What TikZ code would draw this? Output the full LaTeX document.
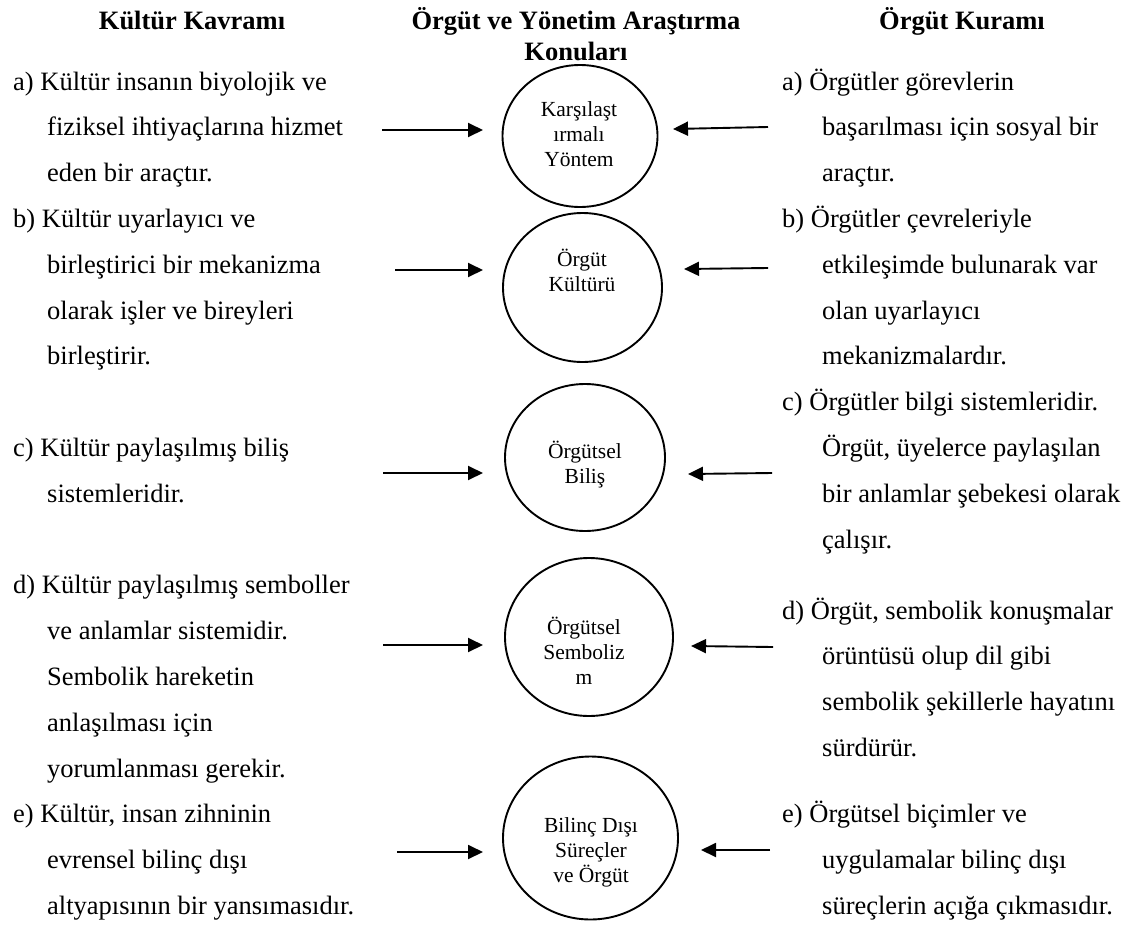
\documentclass[tikz,border=0pt]{standalone}
\usepackage{fontspec}
\setmainfont{Liberation Serif}
\usetikzlibrary{arrows.meta,shapes.geometric}

% text sizes: body lines, headings and the labels inside the ellipses
\newcommand\bodytxt{\fontsize{26.5}{45.8}\selectfont}
\newcommand\ovaltxt{\fontsize{21.5}{25}\selectfont}

\begin{document}
\begin{tikzpicture}[x=1pt,y=-1pt,
  ln/.style={anchor=base west,inner sep=0pt,font=\bodytxt},
  head/.style={anchor=base,inner sep=0pt,font=\bodytxt\bfseries},
  oval/.style={draw,ellipse,line width=1.9pt,inner sep=0pt},
  ovaltext/.style={align=center,inner sep=0pt,font=\ovaltxt},
  link/.style={line width=1.9pt,-{Triangle[length=15pt,width=14pt]}}]

\useasboundingbox (0,0) rectangle (1143,926);

% column headings
\node[head] (h1) at (192,29) {Kültür Kavramı};
\node[head] (h2) at (576,29) {Örgüt ve Yönetim Araştırma};
\node[head] (h2b) at (576,60) {Konuları};
\node[head] (h3) at (962,29) {Örgüt Kuramı};

% left column: culture concepts
\node[ln] (la1) at (13,90)    {a) Kültür insanın biyolojik ve};
\node[ln] (la2) at (47,135.8) {fiziksel ihtiyaçlarına hizmet};
\node[ln] (la3) at (47,181.6) {eden bir araçtır.};
\node[ln] (lb1) at (13,227.4) {b) Kültür uyarlayıcı ve};
\node[ln] (lb2) at (47,273.2) {birleştirici bir mekanizma};
\node[ln] (lb3) at (47,319)   {olarak işler ve bireyleri};
\node[ln] (lb4) at (47,364.8) {birleştirir.};
\node[ln] (lc1) at (13,456.4) {c) Kültür paylaşılmış biliş};
\node[ln] (lc2) at (47,502.2) {sistemleridir.};
\node[ln] (ld1) at (13,593.8) {d) Kültür paylaşılmış semboller};
\node[ln] (ld2) at (47,639.6) {ve anlamlar sistemidir.};
\node[ln] (ld3) at (47,685.4) {Sembolik hareketin};
\node[ln] (ld4) at (47,731.2) {anlaşılması için};
\node[ln] (ld5) at (47,777)   {yorumlanması gerekir.};
\node[ln] (le1) at (13,822.8) {e) Kültür, insan zihninin};
\node[ln] (le2) at (47,868.6) {evrensel bilinç dışı};
\node[ln] (le3) at (47,914.4) {altyapısının bir yansımasıdır.};

% right column: organisation theory
\node[ln] (ra1) at (782,90)    {a) Örgütler görevlerin};
\node[ln] (ra2) at (822,135.8) {başarılması için sosyal bir};
\node[ln] (ra3) at (822,181.6) {araçtır.};
\node[ln] (rb1) at (782,227.4) {b) Örgütler çevreleriyle};
\node[ln] (rb2) at (822,273.2) {etkileşimde bulunarak var};
\node[ln] (rb3) at (822,319)   {olan uyarlayıcı};
\node[ln] (rb4) at (822,364.8) {mekanizmalardır.};
\node[ln] (rc1) at (782,410.6) {c) Örgütler bilgi sistemleridir.};
\node[ln] (rc2) at (822,456.4) {Örgüt, üyelerce paylaşılan};
\node[ln] (rc3) at (822,502.2) {bir anlamlar şebekesi olarak};
\node[ln] (rc4) at (822,548)   {çalışır.};
\node[ln] (rd1) at (782,619)   {d) Örgüt, sembolik konuşmalar};
\node[ln] (rd2) at (822,664.8) {örüntüsü olup dil gibi};
\node[ln] (rd3) at (822,710.6) {sembolik şekillerle hayatını};
\node[ln] (rd4) at (822,756.4) {sürdürür.};
\node[ln] (re1) at (782,822.8) {e) Örgütsel biçimler ve};
\node[ln] (re2) at (822,868.6) {uygulamalar bilinç dışı};
\node[ln] (re3) at (822,914.4) {süreçlerin açığa çıkmasıdır.};

% middle column: research topics
\node[oval,minimum width=155pt,minimum height=142pt] (e1) at (580,136) {};
\node[oval,minimum width=159pt,minimum height=149pt] (e2) at (582.5,287.5) {};
\node[oval,minimum width=160pt,minimum height=147pt] (e3) at (585,457.5) {};
\node[oval,minimum width=168pt,minimum height=158pt] (e4) at (589,637) {};
\node[oval,minimum width=175pt,minimum height=163pt] (e5) at (590.5,838) {};

\node[ovaltext] (t1) at (579,134) {Karşılaşt\\ırmalı\\Yöntem};
\node[ovaltext] (t2) at (582,270) {Örgüt\\Kültürü};
\node[ovaltext] (t3) at (585,465) {Örgütsel\\Biliş};
\node[ovaltext] (t4) at (584,651) {Örgütsel\\Semboliz\\m};
\node[ovaltext] (t5) at (591,852) {Bilinç Dışı\\Süreçler\\ve Örgüt};

% arrow ends
\coordinate (ls1) at (382,130);  \coordinate (lt1) at (483,130);
\coordinate (ls2) at (395,270);  \coordinate (lt2) at (483,270);
\coordinate (ls3) at (383,473);  \coordinate (lt3) at (483,473);
\coordinate (ls4) at (383,645);  \coordinate (lt4) at (483,645);
\coordinate (ls5) at (397,852);  \coordinate (lt5) at (483,852);

\coordinate (rs1) at (768,127);  \coordinate (rt1) at (673,129);
\coordinate (rs2) at (768,268);  \coordinate (rt2) at (684,269);
\coordinate (rs3) at (772,473);  \coordinate (rt3) at (688,474);
\coordinate (rs4) at (773,647);  \coordinate (rt4) at (691,646);
\coordinate (rs5) at (770,850);  \coordinate (rt5) at (701,850);

\foreach \k in {1,...,5}{
  \draw[link] (ls\k) -- (lt\k);
  \draw[link] (rs\k) -- (rt\k);
}
\end{tikzpicture}
\end{document}
